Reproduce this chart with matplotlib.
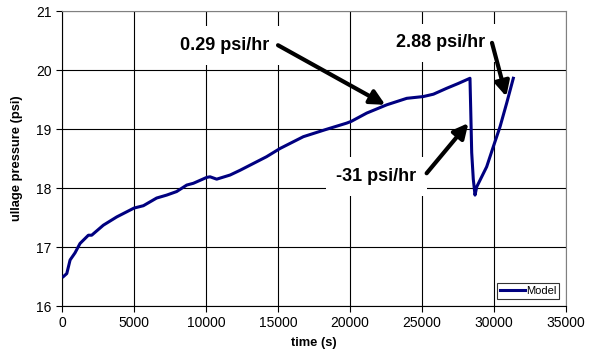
import matplotlib
matplotlib.use('Agg')
import matplotlib.pyplot as plt

# model ullage pressure
time_s = [100, 330, 560, 900, 1250, 1830, 2060, 2870, 3800, 5000, 5650,
          6570, 7270, 7960, 8660, 9120, 10050, 10280, 10740, 11670, 12360,
          14200, 15140, 16760, 18300, 19770, 20090, 21160, 22550, 23940,
          25090, 25790, 26710, 27500, 28330, 28380, 28450, 28560, 28680,
          28800, 29490, 29950, 30420, 30880, 31340]
pressure_psi = [16.50, 16.55, 16.78, 16.90, 17.06, 17.20, 17.20, 17.37,
                17.51, 17.66, 17.70, 17.83, 17.88, 17.94, 18.05, 18.08,
                18.18, 18.19, 18.15, 18.22, 18.30, 18.53, 18.67, 18.87,
                18.99, 19.10, 19.13, 19.27, 19.41, 19.52, 19.55, 19.59,
                19.69, 19.77, 19.86, 19.35, 18.60, 18.15, 17.88, 18.02,
                18.36, 18.70, 19.04, 19.44, 19.86]

x_ticks = [0, 5000, 10000, 15000, 20000, 25000, 30000, 35000]
y_ticks = [16, 17, 18, 19, 20, 21]

# (label, text centre, arrow start, arrow tip)
rate_labels = [
    ('0.29 psi/hr', (11300, 20.42), (15000, 20.42), (22450, 19.41)),
    ('2.88 psi/hr', (26280, 20.46), (29860, 20.46), (30850, 19.55)),
    ('-31 psi/hr', (21840, 18.20), (25320, 18.25), (28220, 19.10)),
]

plt.rcParams['font.family'] = ['Liberation Sans', 'DejaVu Sans']

fig = plt.figure(figsize=(5.93, 3.55), dpi=100)
ax = fig.add_axes([0.1046, 0.138, 0.8499, 0.831])

ax.plot(time_s, pressure_psi, color='#000080', lw=2.2, label='Model',
        zorder=3)

ax.set_xlim(0, 35000)
ax.set_ylim(16, 21)
ax.set_xticks(x_ticks)
ax.set_yticks(y_ticks)
ax.tick_params(labelsize=10, direction='out', length=4, width=0.8,
               color='black')
ax.grid(True, color='black', lw=0.8, zorder=0)
ax.set_axisbelow(True)

for side in ('top', 'right'):
    ax.spines[side].set_color('#808080')
for side in ('left', 'bottom'):
    ax.spines[side].set_color('black')

ax.set_xlabel('time (s)', fontsize=9.3, fontweight='bold', labelpad=5)
ax.set_ylabel('ullage pressure (psi)', fontsize=9.3, fontweight='bold',
              labelpad=9)

for text, xy_text, xy_start, xy_tip in rate_labels:
    ax.text(*xy_text, text, ha='center', va='center', fontsize=13,
            fontweight='bold', zorder=4,
            bbox=dict(boxstyle='square,pad=0.6', fc='white', ec='none'))
    ax.annotate('', xy=xy_tip, xytext=xy_start, zorder=5,
                arrowprops=dict(arrowstyle='-|>', color='black', lw=3,
                                mutation_scale=22, shrinkA=0, shrinkB=0))

leg = ax.legend(loc='lower right', fontsize=8, frameon=True, fancybox=False,
                handlelength=2.2, handletextpad=0.1, borderpad=0.3,
                borderaxespad=0.6)
leg.get_frame().set_edgecolor('black')
leg.get_frame().set_linewidth(0.8)

fig.savefig('out.png', dpi=100, facecolor='white')
